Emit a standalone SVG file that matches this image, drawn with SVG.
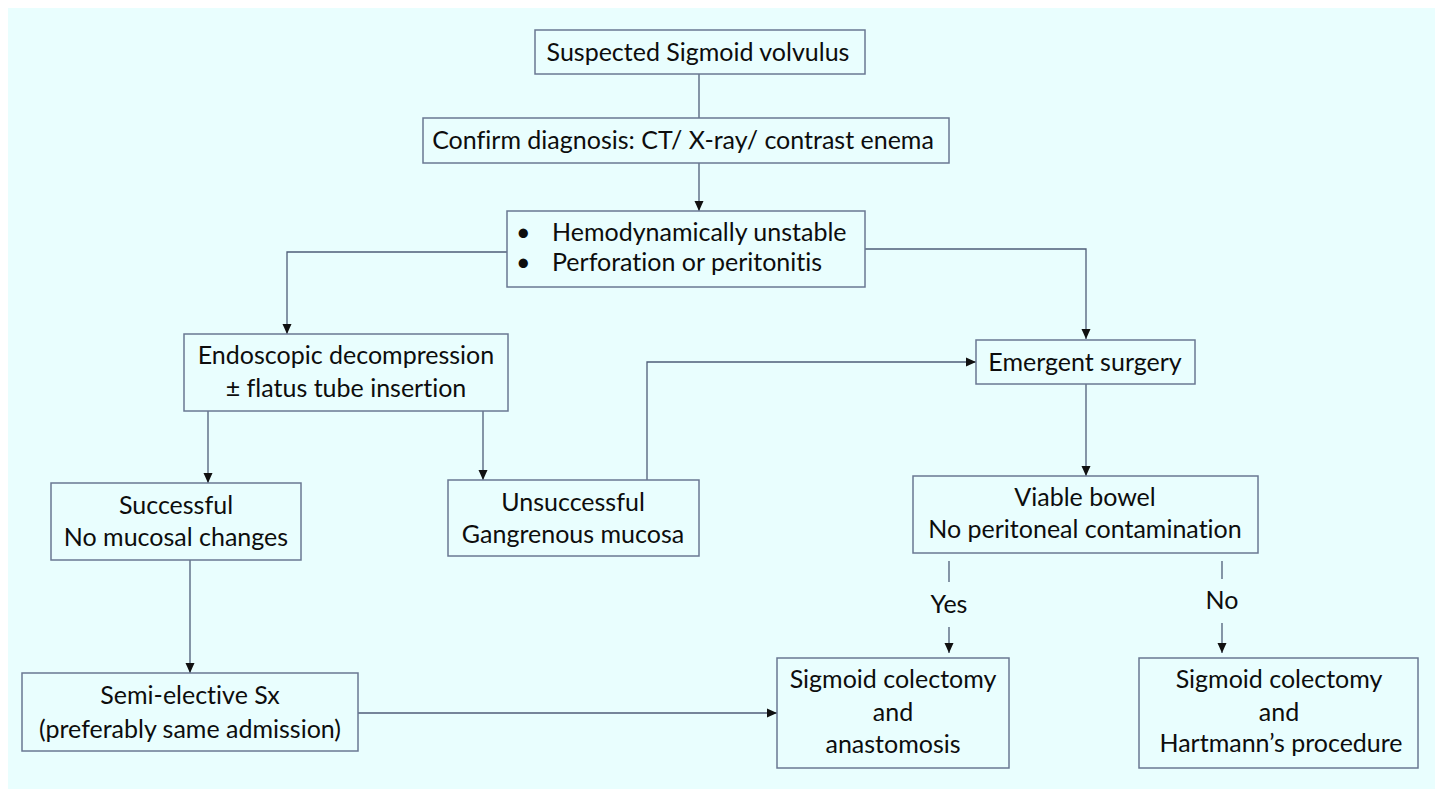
<svg xmlns="http://www.w3.org/2000/svg" width="1435" height="791" viewBox="0 0 1435 791">
<defs>
<style>
.box{fill:none;stroke:#6a7893;stroke-width:1.5}
.t{font-family:Lato,"Liberation Sans",sans-serif;font-size:25px;fill:#0d0d0d;text-anchor:middle;font-variant-ligatures:none}
.tl{font-family:Lato,"Liberation Sans",sans-serif;font-size:25px;fill:#0d0d0d;font-variant-ligatures:none}
.c{fill:none;stroke:#4f5d78;stroke-width:1.3}
</style>
<marker id="ah" markerUnits="userSpaceOnUse" markerWidth="10" markerHeight="10" viewBox="0 0 10 10" refX="10" refY="5" orient="auto">
<path d="M0,0.5 L10,5 L0,9.5 Z" fill="#111"/>
</marker>
</defs>
<rect x="8" y="8" width="1427" height="781" fill="#e9fefe"/>
<g id="connectors">
<line class="c" x1="699" y1="74" x2="699" y2="118"/>
<line class="c" x1="699" y1="163" x2="699" y2="211" marker-end="url(#ah)"/>
<polyline class="c" points="507,252 287,252 287,334" marker-end="url(#ah)"/>
<polyline class="c" points="865,249 1086,249 1086,339" marker-end="url(#ah)"/>
<line class="c" x1="208" y1="411" x2="208" y2="483" marker-end="url(#ah)"/>
<line class="c" x1="483" y1="411" x2="483" y2="480" marker-end="url(#ah)"/>
<polyline class="c" points="647,480 647,362 976,362" marker-end="url(#ah)"/>
<line class="c" x1="1086" y1="384" x2="1086" y2="476" marker-end="url(#ah)"/>
<line class="c" x1="949" y1="561" x2="949" y2="582"/>
<line class="c" x1="949" y1="627" x2="949" y2="653" marker-end="url(#ah)"/>
<line class="c" x1="1222" y1="561" x2="1222" y2="579"/>
<line class="c" x1="1222" y1="623" x2="1222" y2="653" marker-end="url(#ah)"/>
<line class="c" x1="190" y1="560" x2="190" y2="673" marker-end="url(#ah)"/>
<line class="c" x1="358" y1="713" x2="777" y2="713" marker-end="url(#ah)"/>
<text class="t" x="949" y="613">Yes</text>
<text class="t" x="1222" y="609">No</text>
</g>
<g id="n1">
<rect class="box" x="535" y="30" width="330" height="44"/>
<text class="t" x="698" y="61">Suspected Sigmoid volvulus</text>
</g>
<g id="n2">
<rect class="box" x="423" y="118" width="526" height="45"/>
<text class="t" x="683" y="149">Confirm diagnosis: CT/ X-ray/ contrast enema</text>
</g>
<g id="n3">
<rect class="box" x="507" y="211" width="358" height="76"/>
<text class="tl" x="516" y="241">•</text>
<text class="tl" x="552" y="241">Hemodynamically unstable</text>
<text class="tl" x="516" y="271">•</text>
<text class="tl" x="552" y="271">Perforation or peritonitis</text>
</g>
<g id="n4">
<rect class="box" x="184" y="334" width="324" height="77"/>
<text class="t" x="346" y="364">Endoscopic decompression</text>
<text class="t" x="346" y="397">± flatus tube insertion</text>
</g>
<g id="n5">
<rect class="box" x="51" y="483" width="250" height="77"/>
<text class="t" x="176" y="514">Successful</text>
<text class="t" x="176" y="546">No mucosal changes</text>
</g>
<g id="n6">
<rect class="box" x="448" y="480" width="251" height="76"/>
<text class="t" x="573" y="511">Unsuccessful</text>
<text class="t" x="573" y="543">Gangrenous mucosa</text>
</g>
<g id="n7">
<rect class="box" x="976" y="340" width="219" height="44"/>
<text class="t" x="1085" y="371">Emergent surgery</text>
</g>
<g id="n8">
<rect class="box" x="913" y="476" width="345" height="77"/>
<text class="t" x="1085" y="506">Viable bowel</text>
<text class="t" x="1085" y="538">No peritoneal contamination</text>
</g>
<g id="n9">
<rect class="box" x="22" y="673" width="336" height="78"/>
<text class="t" x="190" y="704">Semi-elective Sx</text>
<text class="t" x="190" y="738">(preferably same admission)</text>
</g>
<g id="n10">
<rect class="box" x="777" y="658" width="232" height="110"/>
<text class="t" x="893" y="688">Sigmoid colectomy</text>
<text class="t" x="893" y="721">and</text>
<text class="t" x="893" y="753">anastomosis</text>
</g>
<g id="n11">
<rect class="box" x="1139" y="658" width="279" height="110"/>
<text class="t" x="1279" y="688">Sigmoid colectomy</text>
<text class="t" x="1279" y="721">and</text>
<text class="t" x="1281" y="752">Hartmann’s procedure</text>
</g>
</svg>
